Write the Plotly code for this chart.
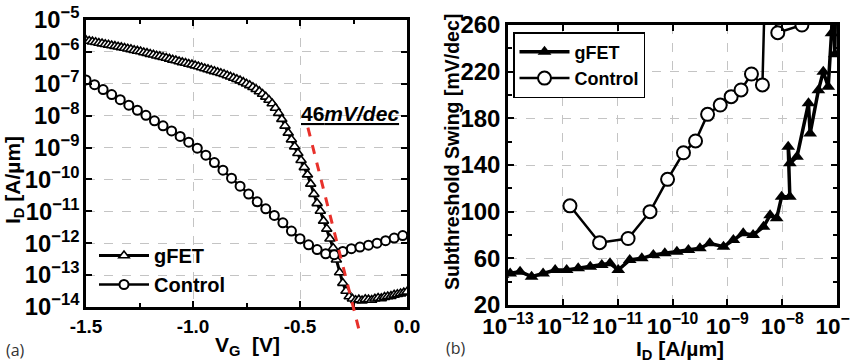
import plotly.graph_objects as go

FONT = "Liberation Sans, Arial, sans-serif"

# ---------------- (a) transfer curves: I_D vs V_G ----------------
vg_gfet = [
    -1.500, -1.485, -1.470, -1.455, -1.440, -1.425, -1.410, -1.395, -1.380, -1.365,
    -1.350, -1.335, -1.320, -1.305, -1.290, -1.275, -1.260, -1.245, -1.230, -1.215,
    -1.200, -1.185, -1.170, -1.155, -1.140, -1.125, -1.110, -1.095, -1.080, -1.065,
    -1.050, -1.035, -1.020, -1.005, -0.990, -0.975, -0.960, -0.945, -0.930, -0.915,
    -0.900, -0.885, -0.870, -0.855, -0.840, -0.825, -0.810, -0.795, -0.780, -0.765,
    -0.750, -0.735, -0.720, -0.705, -0.690, -0.675, -0.660, -0.645, -0.630, -0.615,
    -0.600, -0.585, -0.570, -0.555, -0.540, -0.525, -0.510, -0.495, -0.480, -0.465,
    -0.450, -0.435, -0.420, -0.405, -0.390, -0.375, -0.360, -0.345, -0.330, -0.315,
    -0.300, -0.285, -0.270, -0.255, -0.240, -0.225, -0.210, -0.195, -0.180, -0.165,
    -0.150, -0.135, -0.120, -0.105, -0.090, -0.075, -0.060, -0.045, -0.030, -0.015,
    0.000,
]
# log10 of drain current [A/um]
log_id_gfet = [
    -5.64, -5.66, -5.68, -5.70, -5.72, -5.74, -5.76, -5.78, -5.80, -5.82,
    -5.84, -5.86, -5.88, -5.90, -5.92, -5.95, -5.97, -5.99, -6.02, -6.04,
    -6.07, -6.09, -6.12, -6.14, -6.17, -6.19, -6.22, -6.25, -6.27, -6.30,
    -6.33, -6.35, -6.38, -6.40, -6.43, -6.46, -6.49, -6.52, -6.55, -6.58,
    -6.61, -6.64, -6.67, -6.70, -6.74, -6.78, -6.82, -6.86, -6.90, -6.95,
    -7.00, -7.05, -7.11, -7.17, -7.24, -7.32, -7.41, -7.51, -7.62, -7.76,
    -7.92, -8.11, -8.32, -8.54, -8.75, -8.97, -9.18, -9.40, -9.62, -9.85,
    -10.14, -10.46, -10.75, -10.99, -11.30, -11.55, -11.86, -12.15, -12.52, -12.92,
    -13.25, -13.50, -13.67, -13.74, -13.79, -13.77, -13.80, -13.76, -13.77, -13.78,
    -13.74, -13.72, -13.73, -13.69, -13.67, -13.66, -13.62, -13.60, -13.58, -13.55,
    -13.52,
]

vg_control = [
    -1.50, -1.46, -1.42, -1.38, -1.34, -1.30, -1.26, -1.22, -1.18, -1.14,
    -1.10, -1.06, -1.02, -0.98, -0.94, -0.90, -0.86, -0.82, -0.78, -0.74,
    -0.70, -0.66, -0.62, -0.58, -0.54, -0.50, -0.46, -0.42, -0.38, -0.34,
    -0.30, -0.26, -0.22, -0.18, -0.14, -0.10, -0.06, -0.02,
]
log_id_control = [
    -6.88, -7.03, -7.18, -7.34, -7.50, -7.67, -7.83, -7.99, -8.16, -8.32,
    -8.48, -8.65, -8.83, -9.02, -9.24, -9.47, -9.71, -9.96, -10.21, -10.46,
    -10.70, -10.92, -11.13, -11.36, -11.62, -11.86, -12.05, -12.20, -12.33, -12.36,
    -12.26, -12.17, -12.12, -12.06, -12.00, -11.92, -11.84, -11.76,
]

# ---------------- (b) subthreshold swing vs I_D ----------------
log_id_ss_gfet = [
    -13.10, -12.96, -12.78, -12.57, -12.36, -12.14, -11.93, -11.72, -11.50, -11.29,
    -11.14, -10.99, -10.78, -10.56, -10.35, -10.14, -9.92, -9.71, -9.50, -9.32,
    -9.07, -8.89, -8.71, -8.53, -8.34, -8.22, -8.10, -8.01, -7.86, -7.89,
    -7.86, -7.73, -7.52, -7.49, -7.34, -7.25, -7.16, -7.10, -7.06, -7.04, -7.02,
]
ss_gfet = [
    46.0, 47.0, 48.6, 44.3, 47.0, 50.0, 50.0, 51.4, 52.8, 54.3,
    55.7, 50.0, 58.6, 60.0, 62.9, 64.3, 65.7, 67.1, 68.6, 72.9,
    70.0, 75.7, 81.4, 80.0, 87.0, 97.0, 94.3, 112.8, 112.8, 155.7,
    141.4, 147.0, 192.9, 167.0, 204.0, 220.0, 207.0, 253.0, 300.0, 235.0, 300.0,
]
# gFET points whose swing lies just above the plotted range
log_id_ss_gfet_high = [
    -12.85, -12.74, -12.63, -12.30, -12.19, -12.08, -11.80, -11.69, -11.58,
    -11.25, -11.14, -10.70, -10.59, -10.48, -10.05, -9.94, -9.55, -9.15,
]
ss_gfet_high = [
    263, 264, 263, 263, 264, 263, 263, 264, 263,
    263, 264, 263, 264, 263, 263, 264, 263, 263,
]

log_id_ss_control = [
    -11.87, -11.33, -10.81, -10.41, -10.09, -9.80, -9.58, -9.36, -9.13, -8.93,
    -8.75, -8.56, -8.36, -8.31, -8.08, -7.64,
]
ss_control = [
    105.0, 73.4, 77.0, 100.0, 127.7, 150.5, 160.6, 183.4, 191.4, 198.6,
    204.3, 218.0, 208.6, 300.0, 253.4, 260.0,
]


def pow10(vals):
    return [10.0 ** v for v in vals]


fig = go.Figure()

# (a) curves
fig.add_trace(go.Scatter(
    x=vg_gfet, y=pow10(log_id_gfet), name="gFET", mode="lines+markers",
    line=dict(color="black", width=3),
    marker=dict(symbol="triangle-up", size=9, color="white",
                line=dict(color="black", width=1.6)),
    xaxis="x", yaxis="y", legend="legend",
))
fig.add_trace(go.Scatter(
    x=vg_control, y=pow10(log_id_control), name="Control", mode="lines+markers",
    line=dict(color="black", width=2.5),
    marker=dict(symbol="circle", size=9, color="white",
                line=dict(color="black", width=2)),
    xaxis="x", yaxis="y", legend="legend",
))

# (b) curves
fig.add_trace(go.Scatter(
    x=pow10(log_id_ss_gfet_high), y=ss_gfet_high, mode="markers", showlegend=False,
    marker=dict(symbol="triangle-up", size=10, color="black"),
    xaxis="x2", yaxis="y2",
))
fig.add_trace(go.Scatter(
    x=pow10(log_id_ss_gfet), y=ss_gfet, name="gFET", mode="lines+markers",
    line=dict(color="black", width=3.5),
    marker=dict(symbol="triangle-up", size=12, color="black"),
    xaxis="x2", yaxis="y2", legend="legend2",
))
fig.add_trace(go.Scatter(
    x=pow10(log_id_ss_control), y=ss_control, name="Control", mode="lines+markers",
    line=dict(color="black", width=2.5),
    marker=dict(symbol="circle", size=13, color="white",
                line=dict(color="black", width=2)),
    xaxis="x2", yaxis="y2", legend="legend2",
))

axis_common = dict(
    showline=True, linecolor="black", linewidth=2.5, mirror="ticks",
    ticks="inside", ticklen=6, tickwidth=2, tickcolor="black",
    showgrid=True, gridcolor="#c4c4c4", griddash="dash", gridwidth=1,
    zeroline=False, automargin=False, tickangle=0, ticklabeloverflow="allow",
)

fig.update_layout(
    width=850, height=362,
    margin=dict(l=0, r=0, t=0, b=0),
    paper_bgcolor="white", plot_bgcolor="white",
    font=dict(family=FONT, color="black"),
    xaxis=dict(
        domain=[86 / 850, 407 / 850], anchor="y", range=[-1.5, 0.0],
        tickvals=[-1.5, -1.0, -0.5, 0.0], ticktext=["-1.5", "-1.0", "-0.5", "0.0"],
        tickfont=dict(size=19, weight="bold", family=FONT),
        minor=dict(ticks="inside", tickvals=[-1.25, -0.75, -0.25], ticklen=4,
                   tickwidth=2, tickcolor="black", showgrid=False),
        **axis_common,
    ),
    yaxis=dict(
        domain=[55 / 362, 342 / 362], anchor="x", type="log", range=[-14, -5],
        dtick=1, exponentformat="power", showexponent="all",
        tickfont=dict(size=19, weight="bold", family=FONT),
        **axis_common,
    ),
    xaxis2=dict(
        domain=[508 / 850, 837 / 850], anchor="y2", type="log", range=[-13, -7],
        dtick=1, exponentformat="power", showexponent="all",
        tickfont=dict(size=18, weight="bold", family=FONT),
        **axis_common,
    ),
    yaxis2=dict(
        domain=[57 / 362, 337 / 362], anchor="x2", range=[20, 260],
        tick0=20, dtick=40,
        tickfont=dict(size=24, weight="bold", family=FONT),
        minor=dict(ticks="inside", dtick=20, ticklen=4, tickwidth=2,
                   tickcolor="black", showgrid=False),
        **axis_common,
    ),
    legend=dict(
        x=94 / 850, y=(362 - 236) / 362, xanchor="left", yanchor="top",
        bgcolor="rgba(0,0,0,0)", borderwidth=0,
        font=dict(size=20, weight="bold", family=FONT),
        itemwidth=50, tracegroupgap=0,
    ),
    legend2=dict(
        x=513 / 850, y=(362 - 32) / 362, xanchor="left", yanchor="top",
        bgcolor="white", bordercolor="black", borderwidth=1.5,
        font=dict(size=18, weight="bold", family=FONT),
        itemwidth=50, tracegroupgap=0,
    ),
    showlegend=True,
)

# 46 mV/dec guide line
fig.add_shape(
    type="line", xref="x", yref="y domain",
    x0=-0.463, y0=0.625, x1=-0.224, y1=-0.08,
    line=dict(color="#e8312b", width=3, dash="dash"),
)

annotations = [
    dict(text="<u>46<i>mV/dec</i></u>", x=350 / 850, y=(362 - 114) / 362,
         font=dict(size=21, weight="bold", family=FONT)),
    dict(text="I<sub>D</sub> [A/µm]", x=14 / 850, y=(362 - 180) / 362, textangle=-90,
         font=dict(size=21, weight="bold", family=FONT)),
    dict(text="V<sub>G</sub>  [V]", x=247 / 850, y=(362 - 346) / 362,
         font=dict(size=21, weight="bold", family=FONT)),
    dict(text="Subthreshold Swing [mV/dec]", x=452 / 850, y=(362 - 152) / 362,
         textangle=-90, font=dict(size=19.5, weight="bold", family=FONT)),
    dict(text="I<sub>D</sub> [A/µm]", x=680 / 850, y=(362 - 350) / 362,
         font=dict(size=21, weight="bold", family=FONT)),
    dict(text="(a)", x=15 / 850, y=(362 - 350) / 362,
         font=dict(size=16, family="Open Sans, sans-serif", color="#333")),
    dict(text="(b)", x=456 / 850, y=(362 - 348) / 362,
         font=dict(size=16, family="Open Sans, sans-serif", color="#333")),
]
for a in annotations:
    a.update(xref="paper", yref="paper", xanchor="center", yanchor="middle",
             showarrow=False)
fig.update_layout(annotations=annotations)

fig.write_html("out.html")
